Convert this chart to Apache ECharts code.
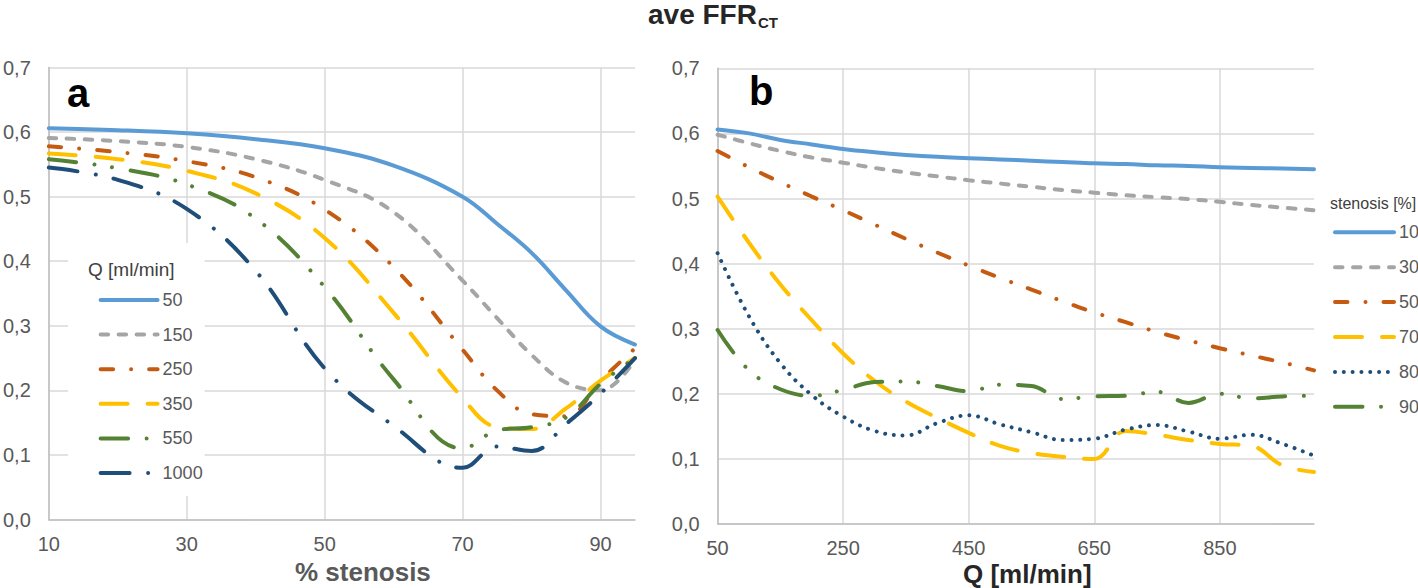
<!DOCTYPE html>
<html>
<head>
<meta charset="utf-8">
<script src="https://cdn.jsdelivr.net/npm/echarts@6/dist/echarts.min.js"></script>
<style>
html, body { margin: 0; padding: 0; background: #fff; }
#main { width: 1418px; height: 588px; }
</style>
</head>
<body>
<div id="main"></div>
<script>
// panel a: FFR vs % stenosis, one line per flow Q
var stenosisX = [10, 20, 30, 40, 50, 60, 70, 75, 80, 85, 90, 95]
var q50 = [0.606, 0.603, 0.598, 0.589, 0.575, 0.548, 0.500, 0.458, 0.413, 0.355, 0.299, 0.271]
var q150 = [0.591, 0.586, 0.577, 0.558, 0.526, 0.476, 0.370, 0.312, 0.255, 0.212, 0.200, 0.248]
var q250 = [0.578, 0.569, 0.555, 0.530, 0.480, 0.391, 0.263, 0.200, 0.163, 0.160, 0.215, 0.265]
var q350 = [0.567, 0.558, 0.540, 0.505, 0.436, 0.320, 0.188, 0.143, 0.140, 0.172, 0.215, 0.250]
var q550 = [0.558, 0.544, 0.519, 0.466, 0.360, 0.217, 0.110, 0.138, 0.143, 0.158, 0.210, 0.250]
var q1000 = [0.545, 0.526, 0.481, 0.385, 0.234, 0.145, 0.080, 0.113, 0.106, 0.148, 0.195, 0.250]

// panel b: FFR vs Q, one line per stenosis
var flowX = [50, 100, 150, 200, 250, 300, 350, 400, 450, 500, 550, 600, 650, 700, 750, 800, 850, 900, 950, 1000]
var s10 = [0.606, 0.600, 0.590, 0.583, 0.576, 0.571, 0.567, 0.564, 0.562, 0.560, 0.558, 0.556, 0.554, 0.553, 0.551, 0.550, 0.548, 0.547, 0.546, 0.545]
var s30 = [0.598, 0.585, 0.573, 0.563, 0.555, 0.547, 0.540, 0.534, 0.528, 0.523, 0.518, 0.513, 0.509, 0.505, 0.502, 0.499, 0.495, 0.490, 0.486, 0.482]
var s50 = [0.573, 0.548, 0.525, 0.503, 0.482, 0.460, 0.438, 0.417, 0.397, 0.378, 0.360, 0.342, 0.325, 0.310, 0.295, 0.282, 0.270, 0.259, 0.248, 0.236]
var s70 = [0.503, 0.432, 0.368, 0.313, 0.262, 0.220, 0.188, 0.163, 0.140, 0.120, 0.109, 0.103, 0.100, 0.143, 0.137, 0.129, 0.123, 0.120, 0.090, 0.080]
var s80 = [0.416, 0.319, 0.247, 0.198, 0.165, 0.143, 0.136, 0.155, 0.167, 0.153, 0.141, 0.129, 0.131, 0.145, 0.152, 0.142, 0.131, 0.137, 0.123, 0.105]
var s90 = [0.298, 0.236, 0.207, 0.197, 0.206, 0.218, 0.219, 0.212, 0.204, 0.214, 0.212, 0.192, 0.196, 0.197, 0.203, 0.186, 0.200, 0.193, 0.196, 0.197]

var FONT = "'Liberation Sans Narrow', 'Liberation Sans', Arial, sans-serif"
var W = 4

// dash patterns (round caps, so dots are zero length dashes)
var DASH = {
  solid: 'solid',
  sysDash: [7.5, 10.5],
  dashDot: [12.5, 18, 0.01, 18],
  lgDash: [27, 20],
  lgDashDot: [29, 18.5, 0.01, 18],
  lgDashDotDot: [27.5, 18.5, 0.01, 17.5, 0.01, 19],
  roundDot: [0.01, 8.8]
}

function zip(xs, ys) {
  return xs.map(function (x, i) { return [x, ys[i]] })
}

function line(name, idx, xs, ys, color, dash) {
  return {
    name: name,
    type: 'line',
    xAxisIndex: idx,
    yAxisIndex: idx,
    smooth: 0.4,
    symbol: 'none',
    data: zip(xs, ys),
    lineStyle: { color: color, width: W, type: dash, cap: 'round' },
    itemStyle: { color: color }
  }
}

function valueAxis(grid, min, max, interval) {
  return {
    type: 'value',
    gridIndex: grid,
    min: min,
    max: max,
    interval: interval,
    axisLine: { show: true, lineStyle: { color: '#bfbfbf', width: 1.5 } },
    axisTick: { show: false },
    splitLine: { show: true, showMaxLine: false, lineStyle: { color: '#d9d9d9', width: 1.5 } },
    axisLabel: { showMaxLabel: false, color: '#595959', fontSize: 20, fontFamily: FONT, margin: 14 }
  }
}

function ffrAxis(grid) {
  return {
    type: 'value',
    gridIndex: grid,
    min: 0,
    max: 0.7,
    interval: 0.1,
    axisLine: { show: true, lineStyle: { color: '#bfbfbf', width: 1.5 } },
    axisTick: { show: false },
    splitLine: { show: true, lineStyle: { color: '#d9d9d9', width: 1.5 } },
    axisLabel: {
      color: '#595959', fontSize: 20, fontFamily: FONT, margin: 18,
      formatter: function (v) { return v.toFixed(1).replace('.', ',') }
    }
  }
}

function legendBase() {
  return {
    orient: 'vertical',
    itemHeight: 20,
    formatter: function (n) { return n.slice(1) },
    textStyle: { color: '#595959', fontSize: 18, fontFamily: FONT },
    itemStyle: { opacity: 0 },
    lineStyle: { width: W, cap: 'round' }
  }
}

var blue = '#5b9bd5', gray = '#a5a5a5', orange = '#c55a11', yellow = '#ffc000', green = '#548235', navy = '#1f4e79'

var legendA = Object.assign(legendBase(), {
  left: 68,
  top: 243,
  padding: [48, 2, 14, 30.6],
  backgroundColor: '#fff',
  z: 5,
  itemWidth: 57,
  itemGap: 16.6,
  data: ['q50', 'q150', 'q250', 'q350', 'q550', 'q1000']
})

var legendB = Object.assign(legendBase(), {
  left: 1333,
  top: 223.3,
  padding: 0,
  itemWidth: 59,
  itemGap: 16.9,
  data: ['s10', 's30', 's50', 's70', 's80', 's90']
})

var chart = echarts.init(document.getElementById('main'), null, { renderer: 'svg' })

var option = {
  backgroundColor: '#fff',
  animation: false,
  grid: [
    { left: 44, right: 783, top: 67.5, bottom: 68.5 },
    { left: 717.6, right: 104, top: 68.3, bottom: 64 }
  ],
  xAxis: [valueAxis(0, 10, 95, 20), valueAxis(1, 50, 1000, 200)],
  yAxis: [ffrAxis(0), ffrAxis(1)],
  legend: [legendA, legendB],
  graphic: [
    { type: 'text', left: 648, top: 0, z: 10, style: { text: 'ave FFR', fill: '#262626', font: "bold 28px 'Liberation Sans', Arial, sans-serif" } },
    { type: 'text', left: 758, top: 15, z: 10, style: { text: 'CT', fill: '#262626', font: "bold 15px 'Liberation Sans', Arial, sans-serif" } },
    { type: 'text', left: 67, top: 73, z: 10, style: { text: 'a', fill: '#000', font: "bold 40px 'Liberation Sans', Arial, sans-serif" } },
    { type: 'text', left: 749, top: 71, z: 10, style: { text: 'b', fill: '#000', font: "bold 40px 'Liberation Sans', Arial, sans-serif" } },
    { type: 'text', left: 295, top: 559, z: 10, style: { text: '% stenosis', fill: '#595959', font: "bold 26px " + FONT } },
    { type: 'text', left: 963, top: 561, z: 10, style: { text: 'Q [ml/min]', fill: '#262626', font: "bold 26px " + FONT } },
    { type: 'text', left: 88, top: 260, z: 10, style: { text: 'Q [ml/min]', fill: '#404040', font: "19px " + FONT } },
    { type: 'text', left: 1330, top: 195, z: 10, style: { text: 'stenosis [%]', fill: '#404040', font: "16px " + FONT } }
  ],
  series: [
    line('q50', 0, stenosisX, q50, blue, DASH.solid),
    line('q150', 0, stenosisX, q150, gray, DASH.sysDash),
    line('q250', 0, stenosisX, q250, orange, DASH.dashDot),
    line('q350', 0, stenosisX, q350, yellow, DASH.lgDash),
    line('q550', 0, stenosisX, q550, green, DASH.lgDashDotDot),
    line('q1000', 0, stenosisX, q1000, navy, DASH.lgDashDot),
    line('s10', 1, flowX, s10, blue, DASH.solid),
    line('s30', 1, flowX, s30, gray, DASH.sysDash),
    line('s50', 1, flowX, s50, orange, DASH.dashDot),
    line('s70', 1, flowX, s70, yellow, DASH.lgDash),
    line('s80', 1, flowX, s80, navy, DASH.roundDot),
    line('s90', 1, flowX, s90, green, DASH.lgDashDotDot)
  ]
}

chart.setOption(option)
</script>
</body>
</html>
